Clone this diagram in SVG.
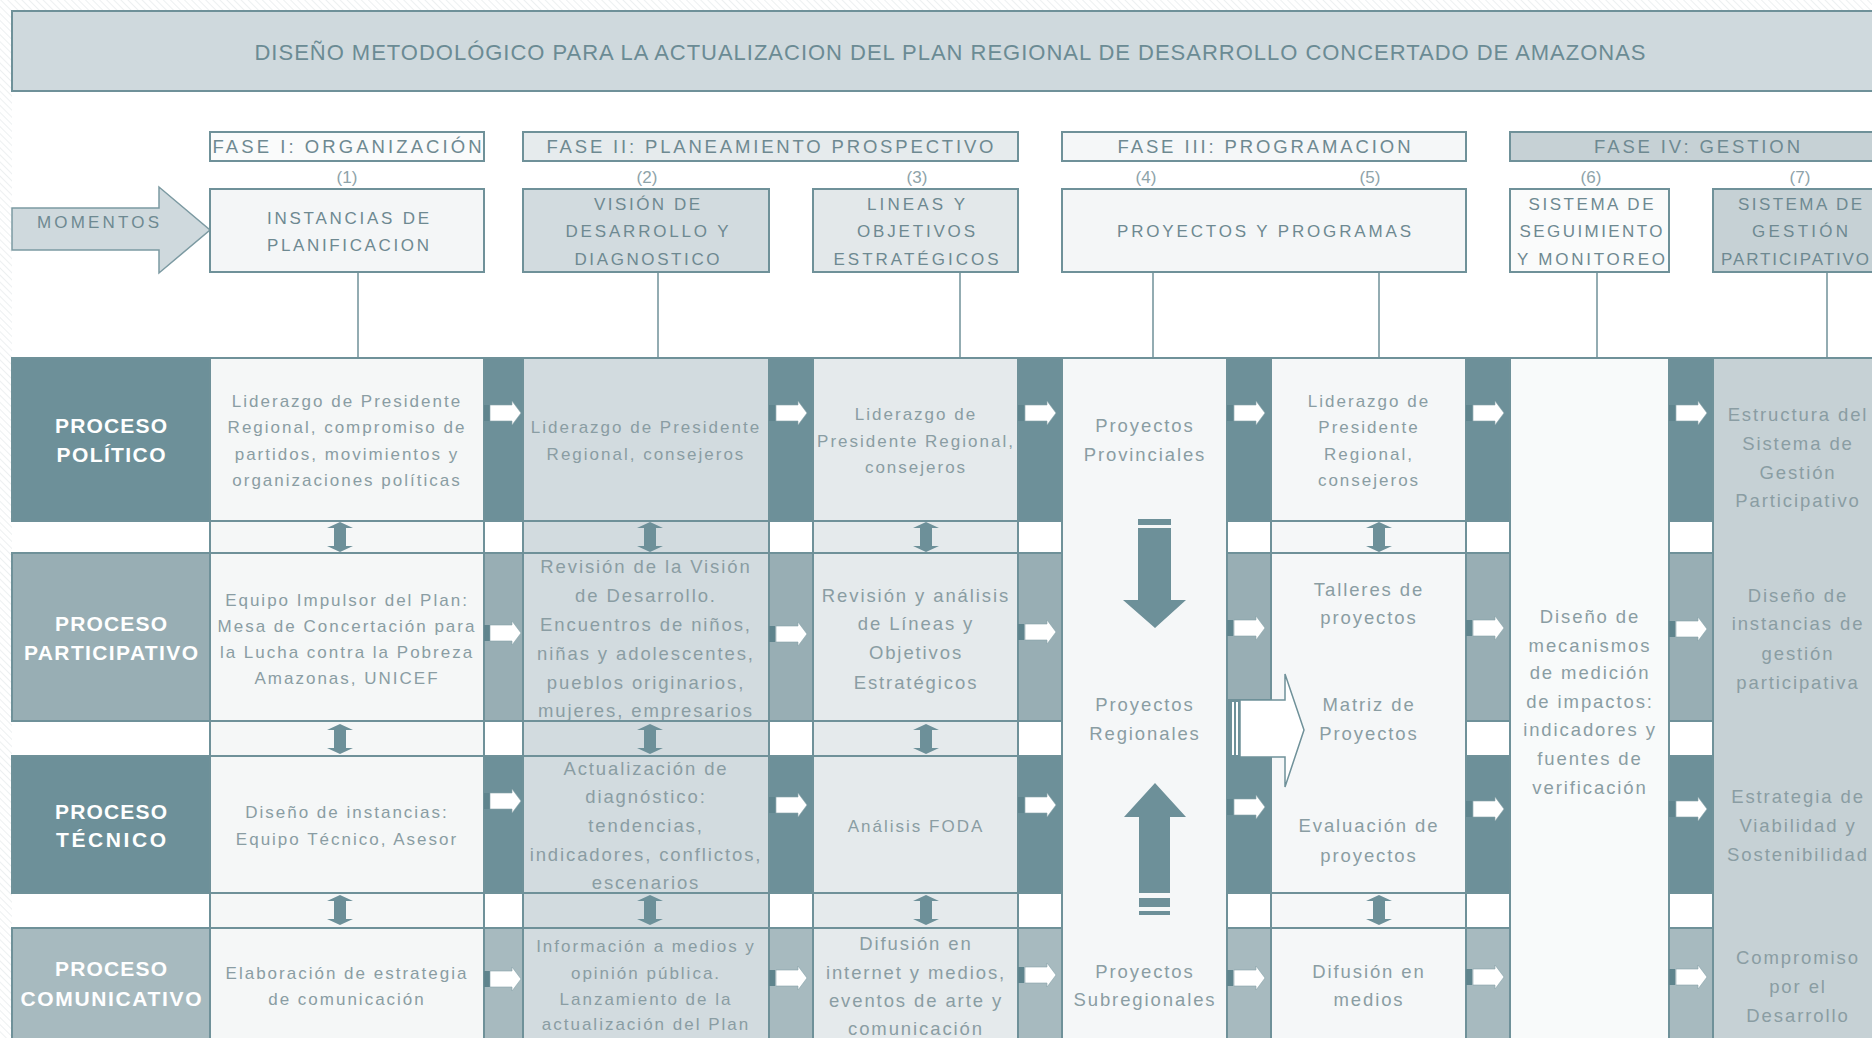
<svg xmlns="http://www.w3.org/2000/svg" width="1872" height="1038" viewBox="0 0 1872 1038">
<defs>
<pattern id="hatch" width="5" height="5" patternUnits="userSpaceOnUse" patternTransform="rotate(-45)">
<rect width="5" height="5" fill="#ffffff"/>
<line x1="0" y1="0" x2="0" y2="5" stroke="#e1e6e8" stroke-width="1.2"/>
</pattern>
<path id="dbl" d="M0,-15 L13,-9 H6 V9 H13 L0,15 L-13,9 H-6 V-9 H-13 Z" fill="#6d9099"/>
<path id="ra" d="M0,-8 H22 V-12 L31,0 L22,12 V8 H0 Z" fill="#ffffff" stroke="#86a2a9" stroke-width="0.6"/>
<rect id="tab" x="0" y="-8" width="6" height="16" fill="#5f848d"/>
</defs>
<style>
.cell{stroke:#6f9199;stroke-width:2}
.dk{fill:#6d9099}
.md{fill:#98aeb4}
.lm{fill:#a7babf}
.wh{fill:#ffffff}
.c1{fill:#f5f7f7}
.c2{fill:#d2dbdf}
.c3{fill:#e5eaec}
.c4{fill:#f5f7f8}
.c6{fill:#f8fafa}
.c7{fill:#c6d1d5}
text{font-family:"Liberation Sans",Arial,sans-serif}
.t{font-size:17px;letter-spacing:2px;fill:#8a9da3;text-anchor:middle}
.tl{font-size:18.5px;letter-spacing:1.9px;fill:#8a9da3;text-anchor:middle}
.h{font-size:17px;fill:#6e8991;text-anchor:middle}
.ph{font-size:18.5px;fill:#6e8991;text-anchor:middle}
.num{font-size:17px;fill:#8ea3a9;text-anchor:middle}
.pl{font-size:21px;font-weight:bold;fill:#ffffff;text-anchor:middle}
.conn{stroke:#6f9199;stroke-width:1.5;fill:none}
.arr{fill:#6d9099}
</style>

<rect x="0" y="0" width="1872" height="1038" fill="url(#hatch)"/>
<rect x="12" y="10" width="1860" height="1028" fill="#ffffff"/>

<g id="title">
<rect x="12" y="11" width="1872" height="80" fill="#cfd9dd" stroke="#6f9199" stroke-width="2"/>
<text x="950" y="60" font-size="22" fill="#6b8b94" text-anchor="middle" textLength="1391">DISEÑO METODOLÓGICO PARA LA ACTUALIZACION DEL PLAN REGIONAL DE DESARROLLO CONCERTADO DE AMAZONAS</text>
</g>

<g id="momentos">
<polygon points="12,208 159,208 159,187 210,230 159,273 159,250 12,250" fill="#cfd9dd" stroke="#7c9aa2" stroke-width="1.5"/>
<text x="98" y="228" class="h" font-size="16" textLength="122">MOMENTOS</text>
</g>

<g id="fase1"><rect x="210" y="132" width="274" height="29" fill="#fafbfb" class="cell"/><text x="347" y="152.5" class="ph" textLength="269">FASE I: ORGANIZACIÓN</text></g>
<g id="fase2"><rect x="523" y="132" width="495" height="29" fill="#e6ebed" class="cell"/><text x="770" y="152.5" class="ph" textLength="447">FASE II: PLANEAMIENTO PROSPECTIVO</text></g>
<g id="fase3"><rect x="1062" y="132" width="404" height="29" fill="#f5f7f8" class="cell"/><text x="1264" y="152.5" class="ph" textLength="293">FASE III: PROGRAMACION</text></g>
<g id="fase4"><rect x="1510" y="132" width="380" height="29" class="cell c7"/><text x="1697" y="152.5" class="ph" textLength="206">FASE IV: GESTION</text></g>

<g id="numeros">
<text x="347" y="183" class="num">(1)</text>
<text x="647" y="183" class="num">(2)</text>
<text x="917" y="183" class="num">(3)</text>
<text x="1146" y="183" class="num">(4)</text>
<text x="1370" y="183" class="num">(5)</text>
<text x="1591" y="183" class="num">(6)</text>
<text x="1800" y="183" class="num">(7)</text>
</g>

<g id="momento1"><rect x="210" y="189" width="274" height="83" class="cell" fill="#f4f6f7"/>
<text x="348" y="224" class="h" textLength="162">INSTANCIAS DE</text>
<text x="348" y="251" class="h" textLength="162">PLANIFICACION</text></g>
<g id="momento2"><rect x="523" y="189" width="246" height="83" class="cell c2"/>
<text x="647" y="210" class="h" textLength="106">VISIÓN DE</text>
<text x="647" y="237" class="h" textLength="163">DESARROLLO Y</text>
<text x="647" y="265" class="h" textLength="145">DIAGNOSTICO</text></g>
<g id="momento3"><rect x="813" y="189" width="205" height="83" class="cell" fill="#e3e8ea"/>
<text x="916" y="210" class="h" textLength="98">LINEAS Y</text>
<text x="916" y="237" class="h" textLength="118">OBJETIVOS</text>
<text x="916" y="265" class="h" textLength="165">ESTRATÉGICOS</text></g>
<g id="momento45"><rect x="1062" y="189" width="404" height="83" class="cell" fill="#f4f6f7"/>
<text x="1264" y="237" class="h" textLength="294">PROYECTOS Y PROGRAMAS</text></g>
<g id="momento6"><rect x="1510" y="189" width="159" height="83" class="cell" fill="#fafbfb"/>
<text x="1591" y="210" class="h" textLength="125">SISTEMA DE</text>
<text x="1591" y="237" class="h" textLength="143">SEGUIMIENTO</text>
<text x="1591" y="265" class="h" textLength="148">Y MONITOREO</text></g>
<g id="momento7"><rect x="1713" y="189" width="180" height="83" class="cell c7"/>
<text x="1800" y="210" class="h" textLength="124">SISTEMA DE</text>
<text x="1800" y="237" class="h" textLength="96">GESTIÓN</text>
<text x="1795" y="265" class="h" textLength="148">PARTICIPATIVO</text></g>

<g id="procesos">
<g id="proc-politico"><rect x="12" y="358" width="198" height="163" class="cell dk"/>
<text x="111" y="432.5" class="pl" textLength="112">PROCESO</text><text x="111" y="461.5" class="pl" textLength="109">POLÍTICO</text></g>
<g id="proc-participativo"><rect x="12" y="553" width="198" height="168" class="cell md"/>
<text x="111" y="630.5" class="pl" textLength="112">PROCESO</text><text x="111" y="659.5" class="pl" textLength="174">PARTICIPATIVO</text></g>
<g id="proc-tecnico"><rect x="12" y="756" width="198" height="137" class="cell dk"/>
<text x="111" y="818.5" class="pl" textLength="112">PROCESO</text><text x="111" y="846.5" class="pl" textLength="110">TÉCNICO</text></g>
<g id="proc-comunicativo"><rect x="12" y="928" width="198" height="120" class="cell lm"/>
<text x="111" y="975.5" class="pl" textLength="112">PROCESO</text><text x="111" y="1005.5" class="pl" textLength="181">COMUNICATIVO</text></g>
</g>

<g id="strips">
<g id="strip-a"><rect x="484" y="358" width="39" height="163" class="cell dk"/><rect x="484" y="521" width="39" height="32" class="cell wh"/><rect x="484" y="553" width="39" height="168" class="cell md"/><rect x="484" y="721" width="39" height="35" class="cell wh"/><rect x="484" y="756" width="39" height="137" class="cell dk"/><rect x="484" y="893" width="39" height="35" class="cell wh"/><rect x="484" y="928" width="39" height="120" class="cell lm"/></g>
<g id="strip-b"><rect x="769" y="358" width="44" height="163" class="cell dk"/><rect x="769" y="521" width="44" height="32" class="cell wh"/><rect x="769" y="553" width="44" height="168" class="cell md"/><rect x="769" y="721" width="44" height="35" class="cell wh"/><rect x="769" y="756" width="44" height="137" class="cell dk"/><rect x="769" y="893" width="44" height="35" class="cell wh"/><rect x="769" y="928" width="44" height="120" class="cell lm"/></g>
<g id="strip-c"><rect x="1018" y="358" width="44" height="163" class="cell dk"/><rect x="1018" y="521" width="44" height="32" class="cell wh"/><rect x="1018" y="553" width="44" height="168" class="cell md"/><rect x="1018" y="721" width="44" height="35" class="cell wh"/><rect x="1018" y="756" width="44" height="137" class="cell dk"/><rect x="1018" y="893" width="44" height="35" class="cell wh"/><rect x="1018" y="928" width="44" height="120" class="cell lm"/></g>
<g id="strip-d"><rect x="1227" y="358" width="44" height="163" class="cell dk"/><rect x="1227" y="521" width="44" height="32" class="cell wh"/><rect x="1227" y="553" width="44" height="147" class="cell md"/><rect x="1227" y="700" width="44" height="193" class="cell dk"/><rect x="1227" y="893" width="44" height="35" class="cell wh"/><rect x="1227" y="928" width="44" height="120" class="cell lm"/></g>
<g id="strip-e"><rect x="1466" y="358" width="44" height="163" class="cell dk"/><rect x="1466" y="521" width="44" height="32" class="cell wh"/><rect x="1466" y="553" width="44" height="168" class="cell md"/><rect x="1466" y="721" width="44" height="35" class="cell wh"/><rect x="1466" y="756" width="44" height="137" class="cell dk"/><rect x="1466" y="893" width="44" height="35" class="cell wh"/><rect x="1466" y="928" width="44" height="120" class="cell lm"/></g>
<g id="strip-f"><rect x="1669" y="358" width="44" height="163" class="cell dk"/><rect x="1669" y="521" width="44" height="32" class="cell wh"/><rect x="1669" y="553" width="44" height="168" class="cell md"/><rect x="1669" y="721" width="44" height="35" class="cell wh"/><rect x="1669" y="756" width="44" height="137" class="cell dk"/><rect x="1669" y="893" width="44" height="35" class="cell wh"/><rect x="1669" y="928" width="44" height="120" class="cell lm"/></g>
</g>

<g id="col1">
<g id="c1-politico"><rect x="210" y="358" width="274" height="163" class="cell c1"/>
<text class="t" x="347" y="407">Liderazgo de Presidente</text><text class="t" x="347" y="433">Regional, compromiso de</text><text class="t" x="347" y="460">partidos, movimientos y</text><text class="t" x="347" y="486">organizaciones políticas</text></g>
<rect x="210" y="521" width="274" height="32" class="cell c1"/>
<g id="c1-participativo"><rect x="210" y="553" width="274" height="168" class="cell c1"/>
<text class="t" x="347" y="606">Equipo Impulsor del Plan:</text><text class="t" x="347" y="632">Mesa de Concertación para</text><text class="t" x="347" y="658">la Lucha contra la Pobreza</text><text class="t" x="347" y="684">Amazonas, UNICEF</text></g>
<rect x="210" y="721" width="274" height="35" class="cell c1"/>
<g id="c1-tecnico"><rect x="210" y="756" width="274" height="137" class="cell c1"/>
<text class="t" x="347" y="818">Diseño de instancias:</text><text class="t" x="347" y="845">Equipo Técnico, Asesor</text></g>
<rect x="210" y="893" width="274" height="35" class="cell c1"/>
<g id="c1-comunicativo"><rect x="210" y="928" width="274" height="120" class="cell c1"/>
<text class="t" x="347" y="979">Elaboración de estrategia</text><text class="t" x="347" y="1005">de comunicación</text></g>
</g>

<g id="col2">
<g id="c2-politico"><rect x="523" y="358" width="246" height="163" class="cell c2"/>
<text class="t" x="646" y="433">Liderazgo de Presidente</text><text class="t" x="646" y="460">Regional, consejeros</text></g>
<rect x="523" y="521" width="246" height="32" class="cell c2"/>
<g id="c2-participativo"><rect x="523" y="553" width="246" height="168" class="cell c2"/>
<text class="tl" x="646" y="572.5">Revisión de la Visión</text><text class="tl" x="646" y="601.5">de Desarrollo.</text><text class="tl" x="646" y="630.5">Encuentros de niños,</text><text class="tl" x="646" y="659.5">niñas y adolescentes,</text><text class="tl" x="646" y="688.5">pueblos originarios,</text><text class="tl" x="646" y="716.5">mujeres, empresarios</text></g>
<rect x="523" y="721" width="246" height="35" class="cell c2"/>
<g id="c2-tecnico"><rect x="523" y="756" width="246" height="137" class="cell c2"/>
<text class="tl" x="646" y="774.5">Actualización de</text><text class="tl" x="646" y="802.5">diagnóstico:</text><text class="tl" x="646" y="831.5">tendencias,</text><text class="tl" x="646" y="860.5" letter-spacing="1.6">indicadores, conflictos,</text><text class="tl" x="646" y="888.5">escenarios</text></g>
<rect x="523" y="893" width="246" height="35" class="cell c2"/>
<g id="c2-comunicativo"><rect x="523" y="928" width="246" height="120" class="cell c2"/>
<text class="t" x="646" y="952">Información a medios y</text><text class="t" x="646" y="979">opinión pública.</text><text class="t" x="646" y="1005">Lanzamiento de la</text><text class="t" x="646" y="1030">actualización del Plan</text></g>
</g>

<g id="col3">
<g id="c3-politico"><rect x="813" y="358" width="205" height="163" class="cell c3"/>
<text class="t" x="916" y="420">Liderazgo de</text><text class="t" x="916" y="447">Presidente Regional,</text><text class="t" x="916" y="473">consejeros</text></g>
<rect x="813" y="521" width="205" height="32" class="cell c3"/>
<g id="c3-participativo"><rect x="813" y="553" width="205" height="168" class="cell c3"/>
<text class="tl" x="916" y="601.5">Revisión y análisis</text><text class="tl" x="916" y="629.5">de Líneas y</text><text class="tl" x="916" y="658.5">Objetivos</text><text class="tl" x="916" y="688.5">Estratégicos</text></g>
<rect x="813" y="721" width="205" height="35" class="cell c3"/>
<g id="c3-tecnico"><rect x="813" y="756" width="205" height="137" class="cell c3"/>
<text class="t" x="916" y="832">Análisis FODA</text></g>
<rect x="813" y="893" width="205" height="35" class="cell c3"/>
<g id="c3-comunicativo"><rect x="813" y="928" width="205" height="120" class="cell c3"/>
<text class="tl" x="916" y="949.5">Difusión en</text><text class="tl" x="916" y="978.5">internet y medios,</text><text class="tl" x="916" y="1006.5">eventos de arte y</text><text class="tl" x="916" y="1034.5">comunicación</text></g>
</g>

<g id="col4"><rect x="1062" y="358" width="165" height="690" class="cell c4"/>
<text class="tl" x="1145" y="431.5">Proyectos</text><text class="tl" x="1145" y="460.5">Provinciales</text>
<text class="tl" x="1145" y="710.5">Proyectos</text><text class="tl" x="1145" y="739.5">Regionales</text>
<text class="tl" x="1145" y="977.5">Proyectos</text><text class="tl" x="1145" y="1005.5">Subregionales</text></g>

<g id="col5">
<g id="c5-politico"><rect x="1271" y="358" width="195" height="163" class="cell c4"/>
<text class="t" x="1369" y="407">Liderazgo de</text><text class="t" x="1369" y="433">Presidente</text><text class="t" x="1369" y="460">Regional,</text><text class="t" x="1369" y="486">consejeros</text></g>
<rect x="1271" y="521" width="195" height="32" class="cell c4"/>
<g id="c5-proyectos"><rect x="1271" y="553" width="195" height="340" class="cell c4"/>
<text class="tl" x="1369" y="595.5">Talleres de</text><text class="tl" x="1369" y="623.5">proyectos</text>
<text class="tl" x="1369" y="710.5">Matriz de</text><text class="tl" x="1369" y="739.5">Proyectos</text>
<text class="tl" x="1369" y="831.5">Evaluación de</text><text class="tl" x="1369" y="861.5">proyectos</text></g>
<rect x="1271" y="893" width="195" height="35" class="cell c4"/>
<g id="c5-comunicativo"><rect x="1271" y="928" width="195" height="120" class="cell c4"/>
<text class="tl" x="1369" y="977.5">Difusión en</text><text class="tl" x="1369" y="1005.5">medios</text></g>
</g>

<g id="col6"><rect x="1510" y="358" width="159" height="690" class="cell c6"/>
<text class="tl" x="1590" y="622.5">Diseño de</text><text class="tl" x="1590" y="651.5">mecanismos</text><text class="tl" x="1590" y="678.5">de medición</text><text class="tl" x="1590" y="707.5">de impactos:</text><text class="tl" x="1590" y="735.5">indicadores y</text><text class="tl" x="1590" y="764.5">fuentes de</text><text class="tl" x="1590" y="793.5">verificación</text></g>

<g id="col7"><rect x="1713" y="358" width="180" height="690" class="cell c7"/>
<text class="tl" x="1798" y="420.5">Estructura del</text><text class="tl" x="1798" y="449.5">Sistema de</text><text class="tl" x="1798" y="478.5">Gestión</text><text class="tl" x="1798" y="506.5">Participativo</text>
<text class="tl" x="1798" y="601.5">Diseño de</text><text class="tl" x="1798" y="629.5">instancias de</text><text class="tl" x="1798" y="659.5">gestión</text><text class="tl" x="1798" y="688.5">participativa</text>
<text class="tl" x="1798" y="802.5">Estrategia de</text><text class="tl" x="1798" y="831.5">Viabilidad y</text><text class="tl" x="1798" y="860.5">Sostenibilidad</text>
<text class="tl" x="1798" y="963.5">Compromiso</text><text class="tl" x="1798" y="992.5">por el</text><text class="tl" x="1798" y="1021.5">Desarrollo</text></g>

<g id="connectors">
<line class="conn" x1="358" y1="272" x2="358" y2="358"/>
<line class="conn" x1="658" y1="272" x2="658" y2="358"/>
<line class="conn" x1="960" y1="272" x2="960" y2="358"/>
<line class="conn" x1="1153" y1="272" x2="1153" y2="358"/>
<line class="conn" x1="1379" y1="272" x2="1379" y2="358"/>
<line class="conn" x1="1597" y1="272" x2="1597" y2="358"/>
<line class="conn" x1="1827" y1="272" x2="1827" y2="358"/>

<use href="#tab" x="484" y="413"/><use href="#ra" x="490" y="413"/>
<use href="#tab" x="484" y="633"/><use href="#ra" x="490" y="633"/>
<use href="#tab" x="484" y="801"/><use href="#ra" x="490" y="801"/>
<use href="#tab" x="484" y="979"/><use href="#ra" x="490" y="979"/>
<use href="#tab" x="769" y="413"/><use href="#ra" x="776" y="413"/>
<use href="#tab" x="769" y="634"/><use href="#ra" x="776" y="634"/>
<use href="#tab" x="769" y="805"/><use href="#ra" x="776" y="805"/>
<use href="#tab" x="769" y="978"/><use href="#ra" x="776" y="978"/>
<use href="#tab" x="1018" y="413"/><use href="#ra" x="1025" y="413"/>
<use href="#tab" x="1018" y="632"/><use href="#ra" x="1025" y="632"/>
<use href="#tab" x="1018" y="805"/><use href="#ra" x="1025" y="805"/>
<use href="#tab" x="1018" y="975"/><use href="#ra" x="1025" y="975"/>
<use href="#tab" x="1227" y="413"/><use href="#ra" x="1234" y="413"/>
<use href="#tab" x="1227" y="628"/><use href="#ra" x="1234" y="628"/>
<use href="#tab" x="1227" y="807"/><use href="#ra" x="1234" y="807"/>
<use href="#tab" x="1227" y="978"/><use href="#ra" x="1234" y="978"/>
<use href="#tab" x="1466" y="413"/><use href="#ra" x="1473" y="413"/>
<use href="#tab" x="1466" y="628"/><use href="#ra" x="1473" y="628"/>
<use href="#tab" x="1466" y="809"/><use href="#ra" x="1473" y="809"/>
<use href="#tab" x="1466" y="977"/><use href="#ra" x="1473" y="977"/>
<use href="#tab" x="1669" y="413"/><use href="#ra" x="1676" y="413"/>
<use href="#tab" x="1669" y="629"/><use href="#ra" x="1676" y="629"/>
<use href="#tab" x="1669" y="809"/><use href="#ra" x="1676" y="809"/>
<use href="#tab" x="1669" y="977"/><use href="#ra" x="1676" y="977"/>

<use href="#dbl" x="340" y="537"/><use href="#dbl" x="650" y="537"/><use href="#dbl" x="926" y="537"/><use href="#dbl" x="1379" y="537"/>
<use href="#dbl" x="340" y="739"/><use href="#dbl" x="650" y="739"/><use href="#dbl" x="926" y="739"/>
<use href="#dbl" x="340" y="910"/><use href="#dbl" x="650" y="910"/><use href="#dbl" x="926" y="910"/><use href="#dbl" x="1379" y="910"/>

<rect x="1138" y="519" width="33" height="6" class="arr"/>
<polygon class="arr" points="1138,528 1171,528 1171,600 1186,600 1155,628 1123,600 1138,600"/>
<polygon class="arr" points="1155,783 1186,817 1170,817 1170,893 1139,893 1139,817 1124,817"/>
<rect x="1139" y="898" width="31" height="9" class="arr"/>
<rect x="1139" y="911" width="31" height="4" class="arr"/>

<polygon points="1240,700 1285,700 1285,674 1304,730 1285,787 1285,757 1240,757" fill="#ffffff" stroke="#6f9199" stroke-width="1.5"/>
<line x1="1227" y1="700" x2="1240" y2="700" stroke="#6f9199" stroke-width="1.5"/>
<rect x="1232" y="702" width="2" height="53" fill="#ffffff"/>
<rect x="1236" y="702" width="2" height="53" fill="#ffffff"/>
</g>
</svg>
